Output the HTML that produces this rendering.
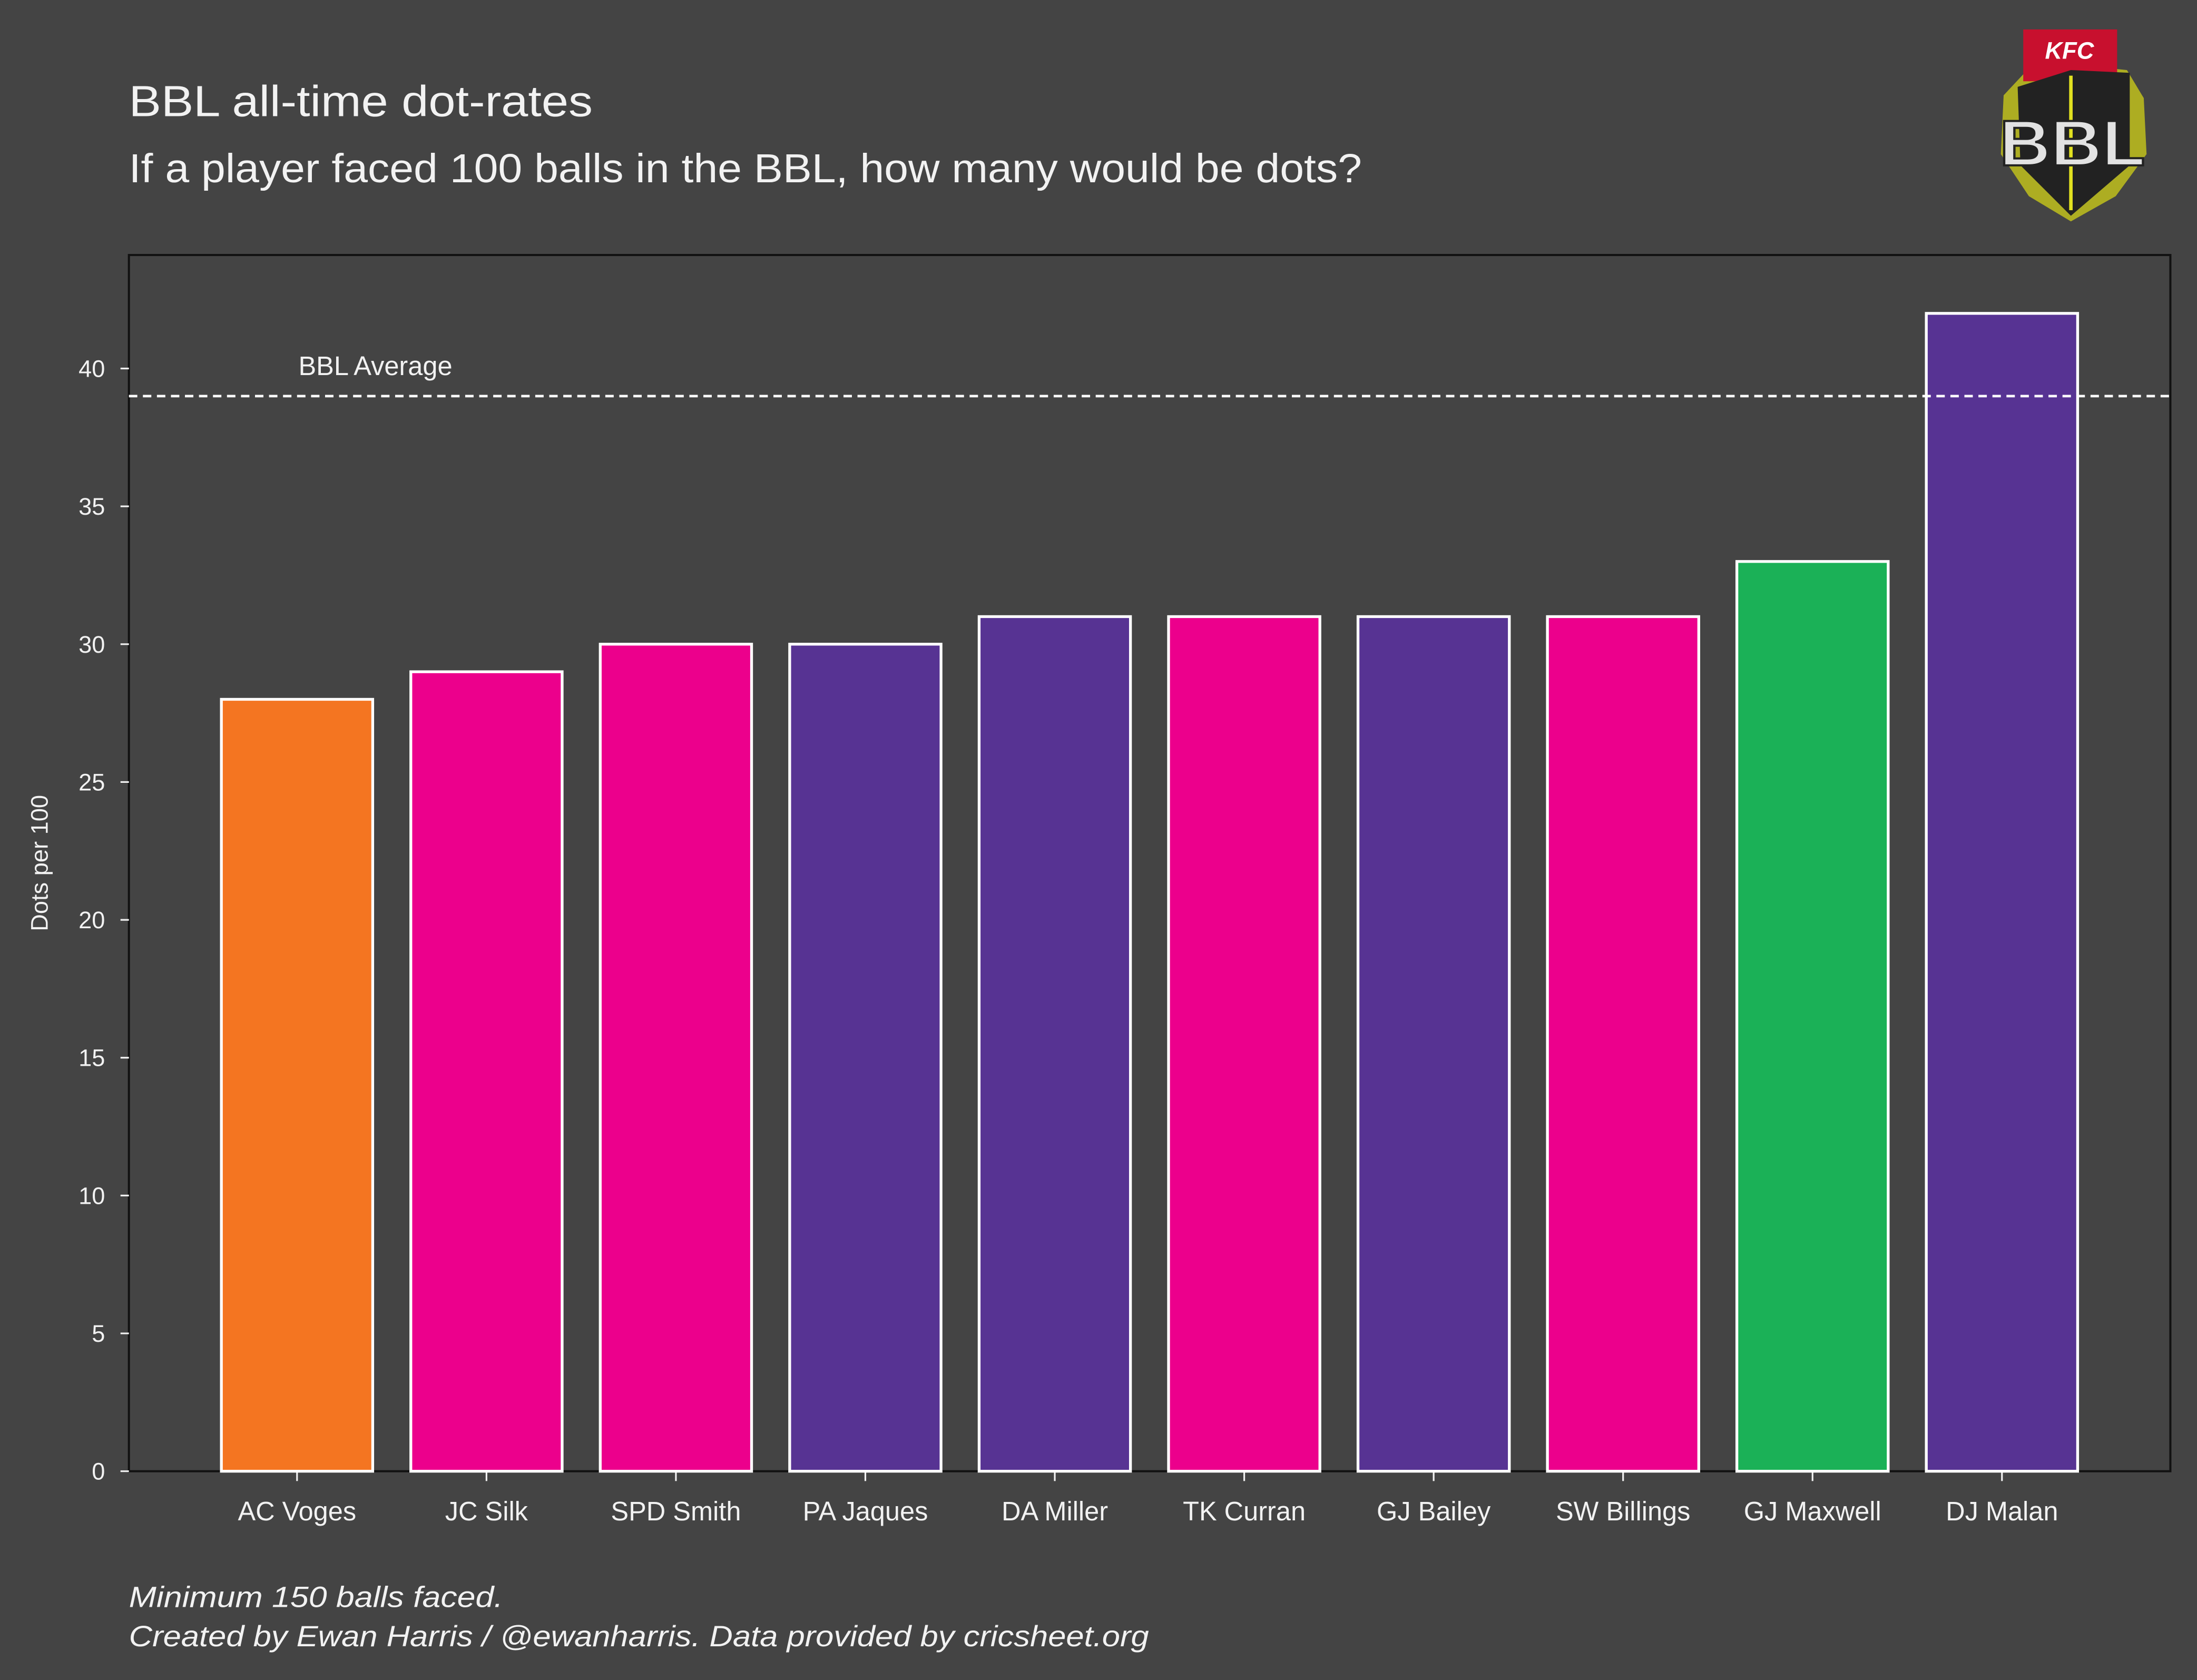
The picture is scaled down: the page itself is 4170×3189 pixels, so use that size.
<!DOCTYPE html>
<html><head><meta charset="utf-8"><style>
html,body{margin:0;padding:0;background:#444444;}
svg{display:block;}
text{font-family:"Liberation Sans",sans-serif;}
</style></head><body>
<svg id="chart" width="4170" height="3189" viewBox="0 0 1568 1199" preserveAspectRatio="none" xmlns="http://www.w3.org/2000/svg">
<rect x="0" y="0" width="1568" height="1199" fill="#444444"/>
<text x="92" y="83" font-size="31" fill="#f2f2f2" textLength="331" lengthAdjust="spacingAndGlyphs">BBL all-time dot-rates</text>
<text x="92" y="130" font-size="29" fill="#f2f2f2" textLength="880" lengthAdjust="spacingAndGlyphs">If a player faced 100 balls in the BBL, how many would be dots?</text>
<g>
<path d="M1430,68 L1445,52 L1478,46 L1518,50 L1530,70 L1532,110 L1510,140 L1478,158 L1448,140 L1428,110 Z" fill="#c8c81a" opacity="0.8"/>
<rect x="1444" y="21" width="67" height="37" fill="#c8102e"/>
<text x="1477" y="42" font-size="17" font-weight="bold" font-style="italic" fill="#fff" text-anchor="middle">KFC</text>
<path d="M1440,62 L1478,50 L1520,52 L1520,118 L1478,154 L1442,118 Z" fill="#222"/>
<line x1="1478" y1="54" x2="1478" y2="150" stroke="#e0e020" stroke-width="2.5"/>
<text x="1479" y="118" font-size="46" font-weight="bold" fill="#e2e2e2" stroke="#222" stroke-width="1.5" text-anchor="middle" textLength="104" lengthAdjust="spacingAndGlyphs">BBL</text>
</g>
<rect x="92" y="182" width="1457" height="868" fill="#444444" stroke="#111" stroke-width="1.5"/>
<g id="yaxis"></g>
<g id="xaxis"></g>
<g id="bars"></g>
<g id="avg"></g>
<text transform="translate(34,616) rotate(-90)" font-size="17" fill="#f2f2f2" text-anchor="middle">Dots per 100</text>
<text x="92" y="1147" font-size="21" font-style="italic" fill="#f2f2f2" textLength="267" lengthAdjust="spacingAndGlyphs">Minimum 150 balls faced.</text>
<text x="92" y="1175" font-size="21" font-style="italic" fill="#f2f2f2" textLength="728" lengthAdjust="spacingAndGlyphs">Created by Ewan Harris / @ewanharris. Data provided by cricsheet.org</text>
</svg>
<script>
const categories = ["AC Voges","JC Silk","SPD Smith","PA Jaques","DA Miller","TK Curran","GJ Bailey","SW Billings","GJ Maxwell","DJ Malan"];
const values = [28,29,30,30,31,31,31,31,33,42];
const yTicks = [0,5,10,15,20,25,30,35,40];
const averageValue = 39;
const barColors = ["#f47521","#ec008c","#ec008c","#573393","#573393","#ec008c","#573393","#ec008c","#1bb157","#573393"];
const NS="http://www.w3.org/2000/svg";
const x=i=>212+(i)*135.2;
const y=v=>1050-v*19.675;
function mk(tag,attrs,parent){const e=document.createElementNS(NS,tag);for(const k in attrs)e.setAttribute(k,attrs[k]);parent.appendChild(e);return e;}
const yg=document.getElementById('yaxis');
yTicks.forEach(t=>{
  const l=mk('line',{x1:86,x2:92,y1:y(t),y2:y(t),stroke:'#f2f2f2','stroke-width':1.2},yg);
  
  
  const tx=mk('text',{x:75,y:y(t)+6,'font-size':17,fill:'#f2f2f2','text-anchor':'end'},yg);
  tx.textContent=t;
  
  
});
const bg=document.getElementById('bars');
const xg=document.getElementById('xaxis');
categories.forEach((c,i)=>{
  const r=mk('rect',{x:x(i)-54,y:y(values[i]),width:108,height:y(0)-y(values[i]),fill:barColors[i],stroke:'#ffffff','stroke-width':2},bg);
  
  
  const l=mk('line',{x1:x(i),x2:x(i),y1:1050,y2:1057,stroke:'#f2f2f2','stroke-width':1.2},xg);
  
  
  const tx=mk('text',{x:x(i),y:1085,'font-size':19,fill:'#f2f2f2','text-anchor':'middle'},xg);
  tx.textContent=c;
  
  
});
const ag=document.getElementById('avg');
const al=mk('line',{x1:92,x2:1549,y1:y(averageValue),y2:y(averageValue),stroke:'#ffffff','stroke-width':1.8,'stroke-dasharray':'6,4'},ag);


const at=mk('text',{x:213,y:y(averageValue)-15,'font-size':19,fill:'#f2f2f2'},ag);
at.textContent='BBL Average';


</script>
</body></html>
